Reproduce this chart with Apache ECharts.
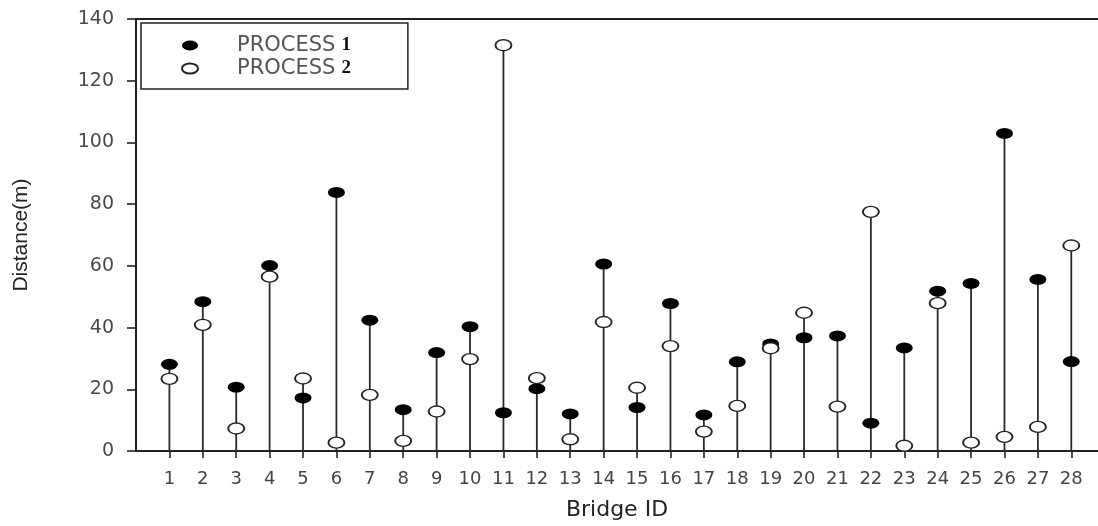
<!DOCTYPE html>
<html>
<head>
<meta charset="utf-8">
<script src="https://cdn.jsdelivr.net/npm/echarts@6/dist/echarts.min.js"></script>
<style>
  html, body { margin: 0; padding: 0; background: #fff; }
  #chart { width: 1098px; height: 526px; }
</style>
</head>
<body>
<div id="chart"></div>
<script>
// Bridge IDs along the x axis
const bridgeIds = [1, 2, 3, 4, 5, 6, 7, 8, 9, 10, 11, 12, 13, 14, 15, 16, 17, 18, 19, 20, 21, 22, 23, 24, 25, 26, 27, 28];
// Distance (m) per bridge for each process
const process1 = [28.1, 48.4, 20.7, 60.1, 17.2, 83.8, 42.4, 13.4, 31.9, 40.3, 12.4, 20.2, 12.0, 60.6, 14.1, 47.8, 11.7, 28.9, 34.7, 36.7, 37.3, 9.0, 33.4, 51.8, 54.3, 102.9, 55.6, 29.0];
const process2 = [23.4, 40.9, 7.3, 56.5, 23.5, 2.7, 18.2, 3.3, 12.8, 29.8, 131.5, 23.6, 3.8, 41.8, 20.5, 34.0, 6.3, 14.6, 33.3, 44.8, 14.4, 77.5, 1.7, 47.9, 2.7, 4.6, 7.8, 66.6];
const yTicks = [0, 20, 40, 60, 80, 100, 120, 140];
const seriesNames = ['PROCESS 1', 'PROCESS 2'];

const FONT = 'DejaVu Sans, Liberation Sans, sans-serif';
// flattened marker outline (wider than tall) used as the legend key
const ELLIPSE_ICON = 'path://M0,5A8,5,0,1,0,16,5A8,5,0,1,0,0,5Z';

// each stem runs from zero up to the higher of the two readings
const stems = bridgeIds.map((id, i) => [id, Math.max(process1[i], process2[i])]);

const chart = echarts.init(document.getElementById('chart'));

chart.setOption({
  animation: false,
  backgroundColor: '#ffffff',
  grid: { left: 136, right: 0, top: 19, bottom: 72 },
  legend: {
    data: seriesNames.map(n => ({ name: n, icon: ELLIPSE_ICON })),
    orient: 'vertical',
    left: 141,
    top: 23,
    padding: [12, 57, 10, 40],
    itemGap: 2,
    itemWidth: 16,
    itemHeight: 10,
    borderColor: '#222',
    borderWidth: 1.5,
    selectedMode: false,
    textStyle: {
      rich: {
        p: { fontFamily: FONT, fontSize: 21, color: '#555', padding: [0, 0, 0, 34], lineHeight: 17 },
        d: { fontFamily: 'Liberation Serif, Times New Roman, serif', fontWeight: 'bold', fontSize: 19, color: '#111', padding: [0, 0, 0, 6], lineHeight: 17 }
      }
    },
    formatter: name => {
      const parts = name.split(' ');
      return '{p|' + parts[0] + '}{d|' + parts[1] + '}';
    }
  },
  xAxis: [
    {
      type: 'value',
      min: 0,
      max: 28.8,
      interval: 1,
      position: 'bottom',
      splitLine: { show: false },
      axisLine: { show: true, onZero: false, lineStyle: { color: '#222', width: 2 } },
      axisTick: { show: true, inside: false, length: 7, customValues: bridgeIds, lineStyle: { color: '#222', width: 1.6 } },
      axisLabel: { customValues: bridgeIds, margin: 19, fontFamily: FONT, fontSize: 18, color: '#444' },
      name: 'Bridge ID',
      nameLocation: 'middle',
      nameGap: 48,
      nameTextStyle: { fontFamily: FONT, fontSize: 22, color: '#222' }
    },
    {
      type: 'value',
      min: 0,
      max: 28.8,
      position: 'top',
      splitLine: { show: false },
      axisLine: { show: true, onZero: false, lineStyle: { color: '#222', width: 2 } },
      axisTick: { show: false },
      axisLabel: { show: false }
    }
  ],
  yAxis: {
    type: 'value',
    min: 0,
    max: 140,
    interval: 20,
    splitLine: { show: false },
    axisLine: { show: true, onZero: false, lineStyle: { color: '#222', width: 2 } },
    axisTick: { show: true, length: 9, customValues: yTicks, lineStyle: { color: '#222', width: 1.6 } },
    axisLabel: { margin: 22, fontFamily: FONT, fontSize: 19, color: '#4a4a4a' },
    name: 'Distance(m)',
    nameLocation: 'middle',
    nameGap: 104,
    nameRotate: 90,
    nameTextStyle: { fontFamily: 'Liberation Sans, Arial, sans-serif', fontSize: 21, color: '#222' }
  },
  series: [
    {
      name: 'stems',
      type: 'custom',
      silent: true,
      data: stems,
      renderItem: (params, api) => {
        const top = api.coord([api.value(0), api.value(1)]);
        const base = api.coord([api.value(0), 0]);
        return {
          type: 'line',
          shape: { x1: base[0], y1: base[1], x2: top[0], y2: top[1] },
          style: { stroke: '#2a2a2a', lineWidth: 1.8 }
        };
      }
    },
    {
      name: 'PROCESS 1',
      type: 'scatter',
      symbol: 'circle',
      symbolSize: [17, 11],
      symbolKeepAspect: false,
      data: bridgeIds.map((id, i) => [id, process1[i]]),
      itemStyle: { color: '#000', borderColor: '#000', borderWidth: 0, opacity: 1 },
      emphasis: { disabled: true }
    },
    {
      name: 'PROCESS 2',
      type: 'scatter',
      symbol: 'circle',
      symbolSize: [16, 11],
      symbolKeepAspect: false,
      data: bridgeIds.map((id, i) => [id, process2[i]]),
      itemStyle: { color: '#fff', borderColor: '#222', borderWidth: 1.6, opacity: 1 },
      emphasis: { disabled: true }
    }
  ]
});
</script>
</body>
</html>
